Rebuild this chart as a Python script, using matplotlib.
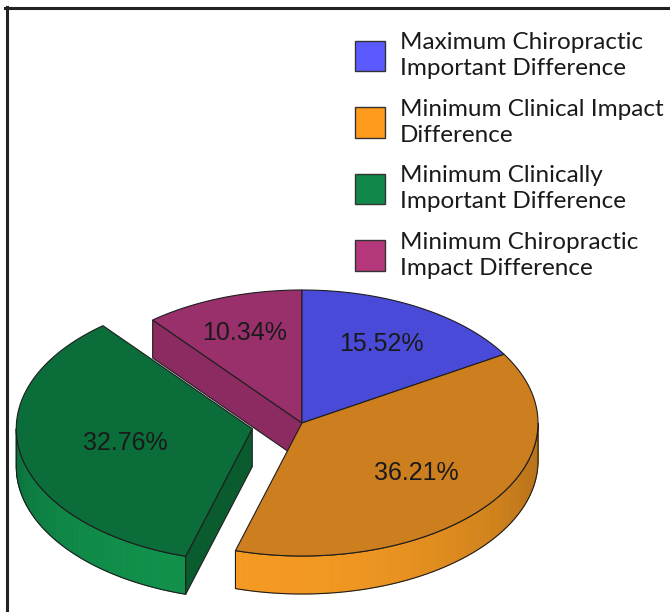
import numpy as np
import matplotlib.pyplot as plt
from matplotlib.patches import Polygon, Patch
from matplotlib.lines import Line2D
from matplotlib.colors import to_rgb

# slice data, drawn clockwise from 12 o'clock
labels = [
    "Maximum Chiropractic\nImportant Difference",
    "Minimum Clinical Impact\nDifference",
    "Minimum Clinically\nImportant Difference",
    "Minimum Chiropractic\nImpact Difference",
]
values = [15.52, 36.21, 32.76, 10.34]
top_colors = ["#4a4ad8", "#cd7e1f", "#0b6d39", "#99306b"]
legend_colors = ["#5a5aff", "#ff9a1c", "#12874a", "#b5377b"]
wall_dark = ["#3a3ab0", "#bb7419", "#086235", "#7a2655"]
wall_light = ["#5656e8", "#f49a22", "#10904a", "#b0387a"]
cut_colors = ["#3c3cb8", "#b06e18", "#0a5c2f", "#8c2b62"]
explode = [0.0, 0.0, 0.215, 0.0]
label_r = [0.68, 0.61, 0.55, 0.72]

# projected pie geometry (pixel space, y pointing down)
CX, CY = 302, 423
A, B = 236, 133
DEPTH = 38
EDGE = "#1e1e1e"


def pt(theta, r=1.0, off=(0.0, 0.0), dz=0.0):
    t = np.radians(theta)
    return (CX + off[0] + A * r * np.cos(t),
            CY + off[1] - B * r * np.sin(t) + dz)


def blend(c1, c2, w):
    c1, c2 = np.array(to_rgb(c1)), np.array(to_rgb(c2))
    return tuple(c1 + (c2 - c1) * w)


fig = plt.figure(figsize=(6.7, 6.12), dpi=100)
ax = fig.add_axes([0, 0, 1, 1])
ax.set_xlim(0, 670)
ax.set_ylim(612, 0)
ax.axis("off")

fracs = np.array(values) / sum(values)
edges = 90 - 360 * np.concatenate([[0], np.cumsum(fracs)])

slices = []
for i in range(len(values)):
    t0, t1 = edges[i], edges[i + 1]
    mid = (t0 + t1) / 2
    d = explode[i]
    off = (d * A * np.cos(np.radians(mid)), -d * B * np.sin(np.radians(mid)))
    slices.append((t0, t1, mid, off))


def draw_cut(i, theta, z):
    t0, t1, mid, off = slices[i]
    c = pt(0, 0, off)
    p = pt(theta, 1, off)
    quad = [c, p, (p[0], p[1] + DEPTH), (c[0], c[1] + DEPTH)]
    ax.add_patch(Polygon(quad, closed=True, fc=cut_colors[i], ec=EDGE,
                         lw=0.8, zorder=z))


def draw_wall(i, z):
    t0, t1, mid, off = slices[i]
    lo, hi = max(t1, -180.0), min(t0, 0.0)
    if lo >= hi:
        return
    th = np.linspace(hi, lo, 80)
    for a0, a1 in zip(th[:-1], th[1:]):
        am = (a0 + a1) / 2
        w = max(0.0, np.cos(np.radians(am + 105)))
        col = blend(wall_dark[i], wall_light[i], w)
        p0, p1 = pt(a0, 1, off), pt(a1, 1, off)
        quad = [p0, p1, (p1[0], p1[1] + DEPTH), (p0[0], p0[1] + DEPTH)]
        ax.add_patch(Polygon(quad, closed=True, fc=col, ec=col, lw=0.6,
                             zorder=z))
    xs, ys = pt(th, 1, off)
    outline = list(zip(xs, ys)) + list(zip(xs[::-1], ys[::-1] + DEPTH))
    ax.add_patch(Polygon(outline, closed=True, fc="none", ec=EDGE, lw=0.8,
                         zorder=z + 0.1))


def draw_top(i, z):
    t0, t1, mid, off = slices[i]
    th = np.linspace(t0, t1, 120)
    xs, ys = pt(th, 1, off)
    poly = [pt(0, 0, off)] + list(zip(xs, ys))
    ax.add_patch(Polygon(poly, closed=True, fc=top_colors[i], ec=EDGE,
                         lw=0.8, zorder=z))
    lx, ly = pt(mid, label_r[i], off)
    ax.text(lx, ly, f"{values[i]:.2f}%", ha="center", va="center",
            fontsize=18, family="Liberation Sans", color="#1a1a1a",
            zorder=z + 0.5)


# back slices first, then the exploded one, then the front-right slice
draw_cut(3, slices[3][0], 1)
draw_top(3, 2)
draw_top(0, 3)
draw_wall(2, 4)
draw_cut(2, slices[2][0], 4.5)
draw_top(2, 5)
draw_wall(1, 6)
draw_top(1, 7)

handles = [Patch(fc=c, ec="#333333", lw=1.0) for c in legend_colors]
leg = ax.legend(handles, labels, loc="upper left",
                bbox_to_anchor=(355 / 670, 1 - 32 / 612),
                frameon=False, handlelength=1.25,
                handleheight=1.55, handletextpad=0.6, labelspacing=0.8,
                borderpad=0, borderaxespad=0,
                prop={"family": "Lato", "size": 17.5})
for t in leg.get_texts():
    t.set_linespacing(1.3)
    t.set_color("#1a1a1a")

# outer frame (top and left edges)
ax.add_line(Line2D([5, 670], [8, 8], color="#222222", lw=2.2))
ax.add_line(Line2D([6.5, 6.5], [7, 612], color="#222222", lw=2.2))

fig.savefig("out.png", dpi=100)
